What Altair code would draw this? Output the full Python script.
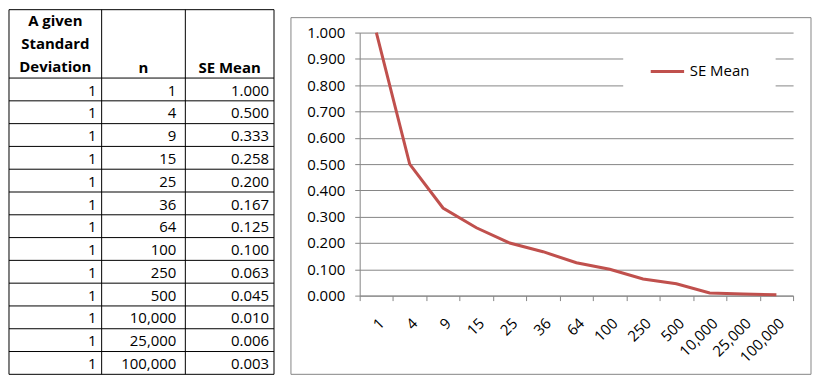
import altair as alt
import pandas as pd

# ---------------- data ----------------
SD_VALUES = [1, 1, 1, 1, 1, 1, 1, 1, 1, 1, 1, 1, 1]
N_VALUES = [1, 4, 9, 15, 25, 36, 64, 100, 250, 500, 10000, 25000, 100000]
N_LABELS = ["1", "4", "9", "15", "25", "36", "64", "100", "250", "500",
            "10,000", "25,000", "100,000"]
SE_MEAN = [1.000, 0.500, 0.333, 0.258, 0.200, 0.167, 0.125, 0.100,
           0.063, 0.045, 0.010, 0.006, 0.003]
HEADER_COL1 = ["A given", "Standard", "Deviation"]
HEADER_COL2 = ["n"]
HEADER_COL3 = ["SE Mean"]
SERIES_NAME = "SE Mean"
Y_TICKS = [0.0, 0.1, 0.2, 0.3, 0.4, 0.5, 0.6, 0.7, 0.8, 0.9, 1.0]

# ---------------- layout / style ----------------
FONT = "Open Sans"
GRAY = "#868686"
RED = "#C0504D"
COL_EDGES = [0, 93, 177, 266]     # table column borders (px)
RIGHT_PAD = [5, 9, 5]             # right padding of values per column
HEADER_UNITS = 3                  # header height in row units
N_ROWS = len(N_VALUES)
TOTAL_UNITS = HEADER_UNITS + N_ROWS
TABLE_Y_RANGE = [-23, 343]        # table top/bottom relative to plot origin
PLOT_W, PLOT_H = 435, 264
PLOT_X0 = 349                     # plot origin x within the whole chart

# ---------------- table panel ----------------
segs = []
for yy in [0] + list(range(HEADER_UNITS, TOTAL_UNITS + 1)):
    segs.append({"x0": COL_EDGES[0], "x1": COL_EDGES[-1], "y0": yy, "y1": yy})
for xx in COL_EDGES:
    segs.append({"x0": xx, "x1": xx, "y0": 0, "y1": TOTAL_UNITS})
seg_df = pd.DataFrame(segs)

tx = alt.Scale(domain=[COL_EDGES[0], COL_EDGES[-1]], range=[COL_EDGES[0], COL_EDGES[-1]], nice=False, zero=False)
ty = alt.Scale(domain=[0, TOTAL_UNITS], range=TABLE_Y_RANGE, nice=False, zero=False)

rules = alt.Chart(seg_df).mark_rule(color="black", strokeWidth=1).encode(
    x=alt.X("x0:Q", scale=tx, axis=None),
    x2="x1:Q",
    y=alt.Y("y0:Q", scale=ty, axis=None),
    y2="y1:Q",
)

hdr = []
for i, t in enumerate(HEADER_COL1):
    hdr.append({"t": t, "x": (COL_EDGES[0] + COL_EDGES[1]) / 2, "y": i + 0.5})
hdr.append({"t": HEADER_COL2[0], "x": (COL_EDGES[1] + COL_EDGES[2]) / 2, "y": 2.55})
hdr.append({"t": HEADER_COL3[0], "x": (COL_EDGES[2] + COL_EDGES[3]) / 2, "y": 2.55})
hdr_df = pd.DataFrame(hdr)

header_text = alt.Chart(hdr_df).mark_text(
    font=FONT, fontSize=15, fontWeight="bold", color="black",
    align="center", baseline="middle"
).encode(
    x=alt.X("x:Q", scale=tx, axis=None),
    y=alt.Y("y:Q", scale=ty, axis=None),
    text="t:N",
)

cells = []
for i in range(N_ROWS):
    vals = [str(SD_VALUES[i]), N_LABELS[i], f"{SE_MEAN[i]:.3f}"]
    for c in range(3):
        cells.append({"t": vals[c], "x": COL_EDGES[c + 1] - RIGHT_PAD[c],
                      "y": HEADER_UNITS + i + 0.55})
cell_df = pd.DataFrame(cells)

cell_text = alt.Chart(cell_df).mark_text(
    font=FONT, fontSize=15, color="black", align="right", baseline="middle"
).encode(
    x=alt.X("x:Q", scale=tx, axis=None),
    y=alt.Y("y:Q", scale=ty, axis=None),
    text="t:N",
)

table = alt.layer(rules, header_text, cell_text).properties(
    width=COL_EDGES[-1], height=PLOT_H
)

# ---------------- chart panel ----------------
df = pd.DataFrame({"n": N_LABELS, "se": SE_MEAN, "series": [SERIES_NAME] * N_ROWS})

box = alt.Chart(pd.DataFrame({"a": [0]})).mark_rect(
    fillOpacity=0, stroke=GRAY, strokeWidth=1
).encode(
    x=alt.value(-69), x2=alt.value(453), y=alt.value(-15), y2=alt.value(343)
)

line = alt.Chart(df).mark_line(strokeWidth=3).encode(
    x=alt.X(
        "n:N", sort=N_LABELS, bandPosition=0.5,
        scale=alt.Scale(type="band", paddingInner=0, paddingOuter=0),
        axis=alt.Axis(
            title=None, tickBand="extent", labelAngle=315, labelAlign="right",
            labelBaseline="top", labelPadding=15, tickSize=5, grid=False,
            domainColor=GRAY, tickColor=GRAY, labelColor="black",
            labelFont=FONT, labelFontSize=15, labelOverlap=False,
        ),
    ),
    y=alt.Y(
        "se:Q", scale=alt.Scale(domain=[0, 1], nice=False),
        axis=alt.Axis(
            title=None, values=Y_TICKS, format=".3f", tickSize=5,
            labelPadding=10, grid=True, gridColor=GRAY, domainColor=GRAY,
            tickColor=GRAY, labelColor="black", labelFont=FONT,
            labelFontSize=15,
        ),
    ),
    color=alt.Color(
        "series:N",
        scale=alt.Scale(domain=[SERIES_NAME], range=[RED]),
        legend=alt.Legend(
            title=None, orient="none", legendX=PLOT_X0 + 267.5, legendY=3,
            padding=26, fillColor="white", symbolType="M-1,0H3",
            symbolSize=280.6, symbolStrokeWidth=3, labelOffset=20.75,
            labelFont=FONT, labelFontSize=15, labelColor="black",
        ),
    ),
)

chart_panel = alt.layer(box, line).properties(width=PLOT_W, height=PLOT_H)

chart = alt.hconcat(table, chart_panel, spacing=15).properties(
    padding=0, background="white"
).configure_view(stroke=None)

chart.save("out.html", embed_options={"renderer": "svg", "actions": False})
